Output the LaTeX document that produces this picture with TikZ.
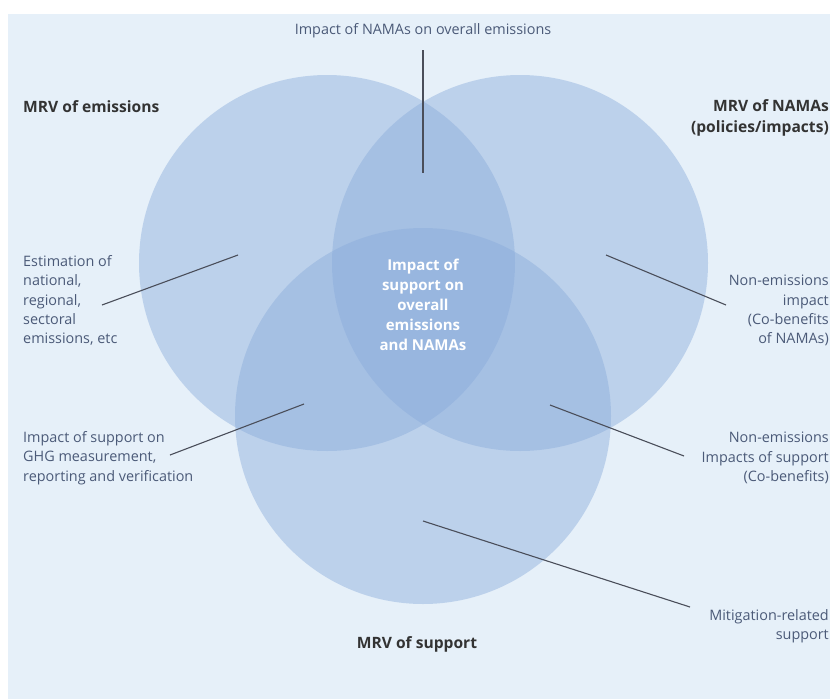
\documentclass[tikz,border=0pt]{standalone}
\usepackage{fontspec}
\setmainfont{Open Sans}
\definecolor{bgblue}{HTML}{E6F0F9}
\definecolor{circblue}{HTML}{8AACDB}
\definecolor{labelc}{HTML}{4B5A78}
\definecolor{titlec}{HTML}{333333}
\definecolor{linec}{HTML}{4A4E5A}
\begin{document}
\begin{tikzpicture}[x=1pt,y=-1pt,
  venn/.style={circle, minimum size=376pt, inner sep=0pt, fill=circblue, fill opacity=0.45, draw=none},
  lab/.style={text=labelc, inner sep=0pt, font=\fontsize{14.4}{19.3}\selectfont},
  ttl/.style={text=titlec, inner sep=0pt, font=\fontsize{15.6}{21}\selectfont\bfseries},
  ctr/.style={text=white, inner sep=0pt, align=center, font=\fontsize{15}{20}\selectfont\bfseries},
  conn/.style={draw=linec, line width=1.1pt}]
\useasboundingbox (0,0) rectangle (830,699);
\fill[bgblue] (8,14) rectangle (830,699);
% circles
\node[venn] (emis) at (327,263) {};
\node[venn] (namas) at (520,263) {};
\node[venn] (supp) at (423,416) {};
% texts
\node[lab] (top) at (423,31) {Impact of NAMAs on overall emissions};
\node[ttl, anchor=west] (memis) at (23,107) {MRV of emissions};
\node[ttl, anchor=east, align=right] (mnamas) at (829,117.5) {MRV of NAMAs\\(policies/impacts)};
\node[lab, anchor=west, align=left] (est) at (23,300.5) {Estimation of\\national,\\regional,\\sectoral\\emissions, etc};
\node[lab, anchor=east, align=right] (nonem) at (829,310.5) {Non-emissions\\impact\\(Co-benefits\\of NAMAs)};
\node[ctr] (center) at (423,305) {Impact of\\support on\\overall\\emissions\\and NAMAs};
\node[lab, anchor=west, align=left] (ghg) at (23,458) {Impact of support on\\GHG measurement,\\reporting and verification};
\node[lab, anchor=east, align=right] (nonsupp) at (829,458) {Non-emissions\\Impacts of support\\(Co-benefits)};
\node[lab, anchor=east, align=right] (mitig) at (829,626.5) {Mitigation-related\\support};
\node[ttl] (msupp) at (417,644) {MRV of support};
% connector endpoints
\coordinate (t1) at (423,50);   \coordinate (t2) at (423,173);
\coordinate (e1) at (102,305);  \coordinate (e2) at (238,255);
\coordinate (n1) at (726,305);  \coordinate (n2) at (606,255);
\coordinate (g1) at (170,455);  \coordinate (g2) at (304,404);
\coordinate (s1) at (684,456);  \coordinate (s2) at (550,405);
\coordinate (m1) at (690,607);  \coordinate (m2) at (423,521);
\draw[conn] (t1) -- (t2);
\draw[conn] (e1) -- (e2);
\draw[conn] (n1) -- (n2);
\draw[conn] (g1) -- (g2);
\draw[conn] (s1) -- (s2);
\draw[conn] (m1) -- (m2);
\end{tikzpicture}
\end{document}
